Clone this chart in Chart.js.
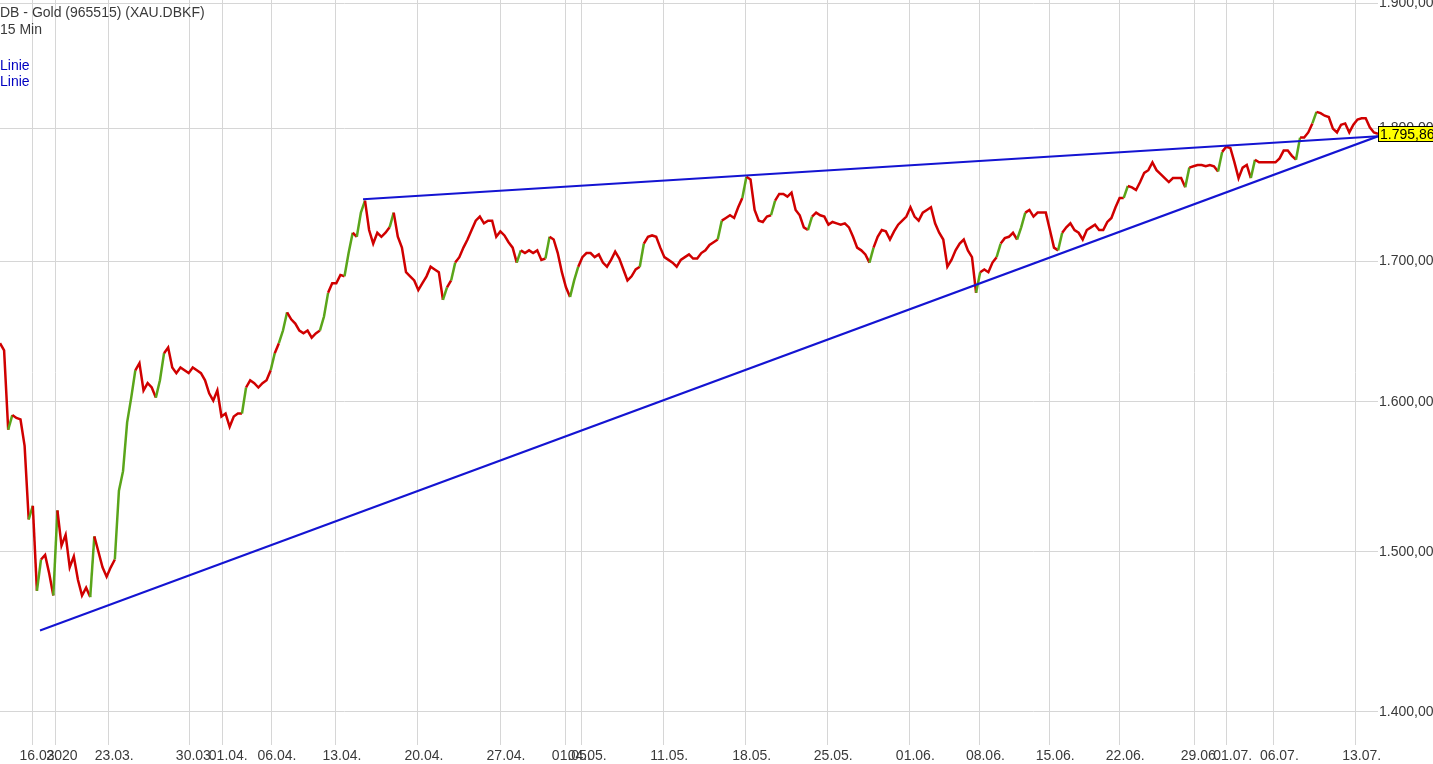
<!DOCTYPE html>
<html>
<head>
<meta charset="utf-8">
<script src="https://cdn.jsdelivr.net/npm/chart.js@4"></script>
<style>
  html, body { margin: 0; padding: 0; background: #fff; }
  #wrap { position: relative; width: 1433px; height: 764px; overflow: hidden; }
  #c { position: absolute; left: 0; top: 0; }
  .info { position: absolute; left: 0; font: 14px "Liberation Sans", Arial, sans-serif; line-height: 16px; color: #3a3a3a; pointer-events: none; white-space: nowrap; }
  .leg { color: #0000c0; }
</style>
</head>
<body>
<div id="wrap">
  <canvas id="c" width="1433" height="764"></canvas>
  <div class="info" id="t1" style="top:4px"></div>
  <div class="info" id="t2" style="top:21px"></div>
  <div class="info leg" id="l1" style="top:57px"></div>
  <div class="info leg" id="l2" style="top:73px"></div>
</div>
<script>
// ---- data ----
const titleText = "DB - Gold (965515) (XAU.DBKF)";
const intervalText = "15 Min";
const legendLabels = ["Linie", "Linie"];

// x axis: trading days since start of the shown data
const tickDays = [2.01, 3.41, 6.60, 11.54, 13.55, 16.52, 20.48, 25.48, 30.48, 34.46, 35.43, 40.43, 45.46, 50.43, 55.43, 59.70, 63.96, 68.23, 72.80, 74.78, 77.62, 82.64];
const tickLabels = ["16.03.", "2020", "23.03.", "30.03.", "01.04.", "06.04.", "13.04.", "20.04.", "27.04.", "01.05.", "04.05.", "11.05.", "18.05.", "25.05.", "01.06.", "08.06.", "15.06.", "22.06.", "29.06.", "01.07.", "06.07.", "13.07."];
const yTicks = [1400, 1500, 1600, 1700, 1800, 1900];

const stepDays = 0.25; // sampling interval of the series (trading days)
const closes = [
  1641,1636,1581,1591,1589,1588,1570,1521,1530,1475,
  1495,1498,1486,1472,1527,1504,1511,1490,1497,1482,
  1472,1477,1471,1510,1500,1490,1484,1490,1495,1540,
  1553,1586,1603,1622,1627,1608,1613,1610,1603,1615,
  1634,1638,1624,1620,1624,1622,1620,1624,1622,1620,
  1615,1606,1601,1608,1590,1592,1583,1590,1592,1592,
  1610,1615,1613,1610,1613,1615,1622,1634,1641,1650,
  1663,1658,1655,1650,1648,1650,1645,1648,1650,1660,
  1677,1684,1684,1690,1689,1706,1721,1718,1736,1745,
  1723,1713,1721,1718,1721,1725,1736,1718,1710,1692,
  1689,1686,1679,1684,1689,1696,1694,1692,1672,1681,
  1686,1699,1703,1710,1716,1723,1730,1733,1728,1730,
  1730,1718,1722,1719,1714,1710,1699,1708,1706,1708,
  1706,1708,1701,1702,1718,1716,1706,1692,1681,1674,
  1686,1696,1703,1706,1706,1703,1705,1699,1696,1701,
  1707,1702,1694,1686,1689,1694,1696,1713,1718,1719,
  1718,1710,1703,1701,1699,1696,1701,1703,1705,1702,
  1702,1706,1708,1712,1714,1716,1730,1732,1734,1732,
  1740,1747,1763,1761,1738,1730,1729,1733,1734,1745,
  1750,1750,1748,1751,1738,1734,1725,1723,1733,1736,
  1734,1733,1727,1729,1728,1727,1728,1725,1718,1710,
  1708,1705,1699,1710,1718,1723,1722,1716,1722,1727,
  1730,1733,1740,1733,1730,1736,1738,1740,1728,1721,
  1716,1696,1701,1708,1713,1716,1708,1703,1677,1692,
  1694,1692,1699,1703,1713,1717,1718,1721,1716,1725,
  1736,1738,1733,1736,1736,1736,1723,1710,1708,1721,
  1725,1728,1723,1721,1716,1723,1725,1727,1723,1723,
  1729,1732,1740,1747,1747,1756,1755,1753,1759,1766,
  1768,1774,1768,1765,1762,1759,1762,1762,1762,1755,
  1770,1771,1772,1772,1771,1772,1771,1767,1782,1786,
  1785,1774,1762,1770,1772,1762,1776,1774,1774,1774,
  1774,1774,1777,1783,1783,1779,1776,1793,1793,1797,
  1804,1813,1812,1810,1809,1800,1797,1803,1804,1797,
  1803,1807,1808,1808,1801,1797,1795.86
];
const lastPrice = 1795.86;
const upperLineDays = [22.13, 84];
const upperLineVals = [1746, 1794];
const lowerLineDays = [2.44, 84];
const lowerLineVals = [1450, 1794];
const yMin = 1380.2, yMax = 1902.5, xMax = 84;

// ---- helpers ----
function fmtDE(v) {
  const s = v.toFixed(2);
  let [ip, dp] = s.split(".");
  ip = ip.replace(/\B(?=(\d{3})+(?!\d))/g, ".");
  return ip + "," + dp;
}

document.getElementById("t1").textContent = titleText;
document.getElementById("t2").textContent = intervalText;
document.getElementById("l1").textContent = legendLabels[0];
document.getElementById("l2").textContent = legendLabels[1];

const pricePts = closes.map((v, i) => ({ x: i * stepDays, y: v }));
const up = upperLineDays.map((d, i) => ({ x: d, y: upperLineVals[i] }));
const low = lowerLineDays.map((d, i) => ({ x: d, y: lowerLineVals[i] }));

const RED = "#d00000", GREEN = "#5aa51a", BLUE = "#1414d2", GRID = "#d6d6d6", TXT = "#3a3a3a";
const FONT = { family: "'Liberation Sans', Arial, sans-serif", size: 14 };

const priceLabel = {
  id: "priceLabel",
  afterDraw(chart) {
    const ctx = chart.ctx, ys = chart.scales.y;
    const y = Math.round(ys.getPixelForValue(lastPrice));
    const x = chart.chartArea.right;
    ctx.save();
    ctx.fillStyle = "#ffff00";
    ctx.fillRect(x, y - 8, 1433 - x, 16);
    ctx.strokeStyle = "#000";
    ctx.lineWidth = 1;
    ctx.strokeRect(x + 0.5, y - 7.5, 1433 - x, 15);
    ctx.fillStyle = "#000";
    ctx.font = "14px 'Liberation Sans', Arial, sans-serif";
    ctx.textBaseline = "middle";
    ctx.fillText(fmtDE(lastPrice), x + 2, y + 1);
    ctx.restore();
  }
};

new Chart(document.getElementById("c"), {
  type: "line",
  data: {
    datasets: [
      {
        data: pricePts, borderWidth: 2.5, pointRadius: 0, tension: 0, order: 3,
        borderColor: RED,
        segment: { borderColor: c => (c.p1.parsed.y - c.p0.parsed.y >= 9 ? GREEN : RED) }
      },
      { data: up, borderColor: BLUE, borderWidth: 2, pointRadius: 0, order: 1 },
      { data: low, borderColor: BLUE, borderWidth: 2, pointRadius: 0, order: 2 }
    ]
  },
  options: {
    responsive: false,
    animation: false,
    events: [],
    layout: { padding: 0 },
    plugins: { legend: { display: false }, tooltip: { enabled: false } },
    scales: {
      x: {
        type: "linear", min: 0, max: xMax,
        grid: { color: GRID, drawTicks: false, lineWidth: 1 },
        border: { display: false },
        ticks: {
          autoSkip: false, maxRotation: 0, font: FONT, color: TXT, padding: 3, labelOffset: 6,
          callback: (v, i) => tickLabels[i]
        },
        afterBuildTicks: s => { s.ticks = tickDays.map(v => ({ value: v })); },
        afterFit: s => { s.height = 19; s.paddingLeft = 0; s.paddingRight = 0; }
      },
      y: {
        type: "logarithmic", position: "right", min: yMin, max: yMax,
        grid: { color: GRID, drawTicks: false, lineWidth: 1 },
        border: { display: false },
        ticks: { font: FONT, color: TXT, padding: 1, callback: v => fmtDE(v) },
        afterBuildTicks: s => { s.ticks = yTicks.map(v => ({ value: v })); },
        afterFit: s => { s.width = 55; s.paddingTop = 0; s.paddingBottom = 0; }
      }
    }
  },
  plugins: [priceLabel]
});
</script>
</body>
</html>
